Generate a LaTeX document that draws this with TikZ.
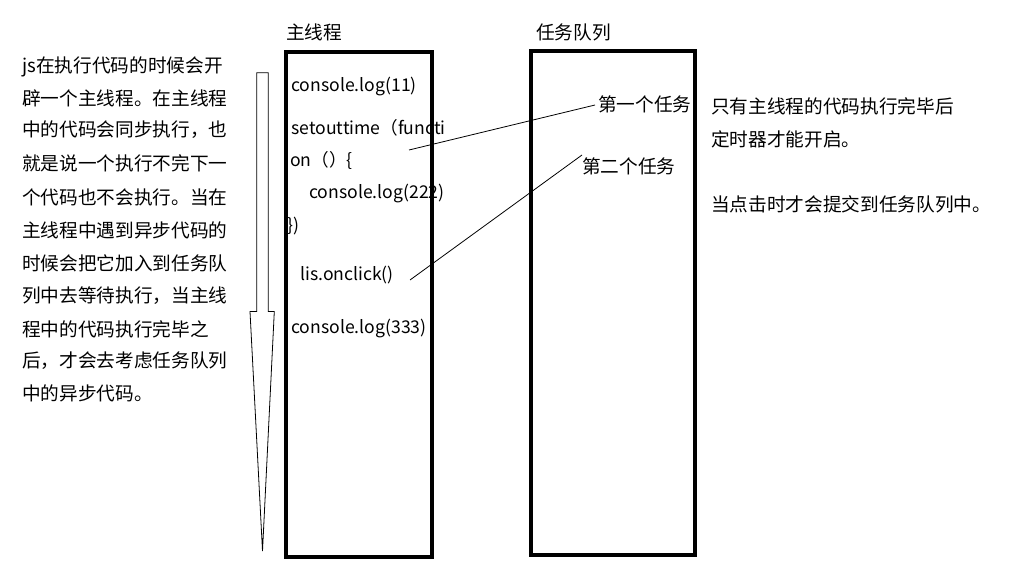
\documentclass[tikz,border=0pt]{standalone}
\usepackage{fontspec}
\setmainfont{Noto Sans CJK SC}
\begin{document}
\begin{tikzpicture}[x=0.75pt,y=-0.75pt,
  txt/.style={anchor=west,inner sep=0pt,font=\fontsize{14}{16}\selectfont},
  code/.style={anchor=west,inner sep=0pt,font=\fontsize{13.2}{15}\selectfont},
  box/.style={draw,line width=3.6pt},
  thin/.style={draw,line width=0.6pt}]
\useasboundingbox[fill=white] (0,0) rectangle (1017,582);
% left paragraph
\foreach \t/\yy [count=\i] in {js在执行代码的时候会开/67,辟一个主线程。在主线程/98,中的代码会同步执行，也/130,就是说一个执行不完下一/163,个代码也不会执行。当在/197,主线程中遇到异步代码的/230,时候会把它加入到任务队/263,列中去等待执行，当主线/296,程中的代码执行完毕之/329,后，才会去考虑任务队列/361,中的异步代码。/393}
  \node[txt] (p\i) at (22,\yy) {\t};
% arrow
\draw[thin] (256.7,72.7) -- (268.3,72.7) -- (268.3,311.5) -- (274.3,311.5) -- (262.5,551) -- (250,311.5) -- (256.7,311.5) -- cycle;
% boxes
\draw[box] (286,52) rectangle (432,557);
\draw[box] (531,51) rectangle (695,555);
\node[txt] (h1) at (286,32) {主线程};
\node[txt] (h2) at (536,32) {任务队列};
% code
\node[code] (c1) at (291,86) {console.log(11)};
\node[code] (c2) at (291,128) {setouttime（functi};
\node[code] (c3) at (290,160) {on（）\{};
\node[code] (c4) at (309,193) {console.log(222)};
\node[code] (c5) at (287,226) {\})};
\node[code] (c6) at (300,275) {lis.onclick()};
\node[code] (c7) at (291,328) {console.log(333)};
% tasks
\node[txt] (t1) at (598,104) {第一个任务};
\node[txt] (t2) at (582,166) {第二个任务};
\coordinate (a1) at (409,150); \coordinate (b1) at (595,105);
\coordinate (a2) at (410,280); \coordinate (b2) at (582,155);
\draw[thin] (a1) -- (b1);
\draw[thin] (a2) -- (b2);
% right notes
\node[txt] (r1) at (711,106) {只有主线程的代码执行完毕后};
\node[txt] (r2) at (711,139) {定时器才能开启。};
\node[txt] (r3) at (711,204) {当点击时才会提交到任务队列中。};
\end{tikzpicture}
\end{document}
